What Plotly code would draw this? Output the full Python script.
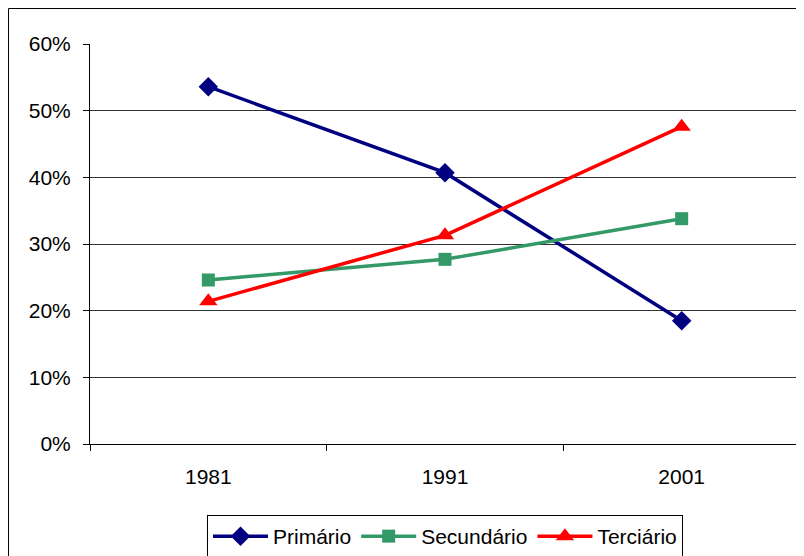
import plotly.graph_objects as go

# data
anos = ["1981", "1991", "2001"]
primario = [0.536, 0.407, 0.185]
secundario = [0.246, 0.277, 0.338]
terciario = [0.214, 0.313, 0.476]

series = [
    ("Primário", primario, "#000080", "diamond", 15),
    ("Secundário", secundario, "#339966", "square", 13),
    ("Terciário", terciario, "#FF0000", "triangle-up", 16),
]

fig = go.Figure()
for nome, valores, cor, simbolo, tam in series:
    fig.add_trace(go.Scatter(
        x=anos,
        y=valores,
        name=nome,
        mode="lines+markers",
        line=dict(color=cor, width=3.5),
        marker=dict(symbol=simbolo, size=tam, color=cor),
    ))

# outer chart border (page has an 8px body margin)
fig.add_shape(type="rect", xref="paper", yref="paper",
              x0=-0.1148, x1=1.3, y0=-0.5, y1=1.0887,
              line=dict(color="black", width=1), layer="below")
# right edge of plot area
fig.add_shape(type="line", xref="paper", yref="paper",
              x0=1, x1=1, y0=0, y1=1,
              line=dict(color="#808080", width=1))

fig.update_layout(
    width=796,
    height=548,
    margin=dict(l=82, r=4, t=36, b=112, autoexpand=False),
    paper_bgcolor="white",
    plot_bgcolor="white",
    font=dict(family="Liberation Sans, Arial, sans-serif", size=21, color="black"),
    showlegend=True,
    legend=dict(
        orientation="h",
        x=0.5, xanchor="center",
        y=-0.1775, yanchor="top",
        bordercolor="black", borderwidth=1,
        font=dict(size=21),
        itemwidth=55,
        tracegroupgap=0,
    ),
    xaxis=dict(
        type="category",
        range=[-0.5, 2.5],
        tickson="boundaries",
        ticks="outside",
        ticklen=6,
        tickcolor="black",
        showline=True,
        linecolor="black",
        linewidth=1,
        showgrid=False,
        zeroline=False,
        ticklabelstandoff=14,
    ),
    yaxis=dict(
        range=[0, 0.6],
        dtick=0.1,
        tickformat=".0%",
        ticks="outside",
        ticklen=6,
        tickcolor="black",
        showline=True,
        linecolor="black",
        linewidth=1,
        showgrid=True,
        gridcolor="#333333",
        gridwidth=1,
        zeroline=False,
        ticklabelstandoff=8,
    ),
)

fig.write_html("out.html")
